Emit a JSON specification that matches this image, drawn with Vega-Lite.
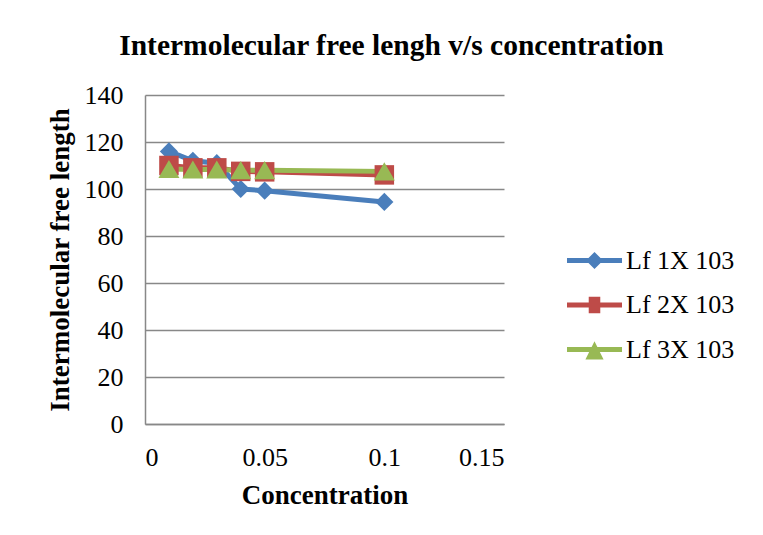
{
  "$schema": "https://vega.github.io/schema/vega-lite/v6.json",
  "width": 359,
  "height": 329,
  "autosize": {"type": "none"},
  "padding": {"left": 145, "top": 95, "right": 259, "bottom": 111},
  "background": "white",
  "title": {
    "text": "Intermolecular free lengh v/s concentration",
    "font": "Liberation Serif",
    "fontSize": 29.5,
    "fontWeight": "bold",
    "color": "black",
    "anchor": "middle",
    "frame": "group",
    "dx": 67,
    "offset": 21
  },
  "data": {
    "values": [
      {"c": 0.01, "lf": 116, "series": "Lf 1X 103"},
      {"c": 0.02, "lf": 112, "series": "Lf 1X 103"},
      {"c": 0.03, "lf": 111, "series": "Lf 1X 103"},
      {"c": 0.04, "lf": 100, "series": "Lf 1X 103"},
      {"c": 0.05, "lf": 99.3, "series": "Lf 1X 103"},
      {"c": 0.1, "lf": 94.5, "series": "Lf 1X 103"},
      {"c": 0.01, "lf": 110, "series": "Lf 2X 103"},
      {"c": 0.02, "lf": 109, "series": "Lf 2X 103"},
      {"c": 0.03, "lf": 109, "series": "Lf 2X 103"},
      {"c": 0.04, "lf": 107.5, "series": "Lf 2X 103"},
      {"c": 0.05, "lf": 107.3, "series": "Lf 2X 103"},
      {"c": 0.1, "lf": 106, "series": "Lf 2X 103"},
      {"c": 0.01, "lf": 108.5, "series": "Lf 3X 103"},
      {"c": 0.02, "lf": 108.3, "series": "Lf 3X 103"},
      {"c": 0.03, "lf": 108.3, "series": "Lf 3X 103"},
      {"c": 0.04, "lf": 108, "series": "Lf 3X 103"},
      {"c": 0.05, "lf": 108, "series": "Lf 3X 103"},
      {"c": 0.1, "lf": 107.5, "series": "Lf 3X 103"}
    ]
  },
  "encoding": {
    "x": {
      "field": "c",
      "type": "quantitative",
      "scale": {"domain": [0, 0.15], "nice": false, "zero": false},
      "axis": {
        "title": "Concentration",
        "values": [0, 0.05, 0.1, 0.15],
        "labelExpr": "'' + datum.value",
        "grid": false,
        "ticks": false,
        "labelPadding": 20,
        "titlePadding": 12
      }
    },
    "y": {
      "field": "lf",
      "type": "quantitative",
      "scale": {"domain": [0, 140], "nice": false},
      "axis": {
        "title": "Intermolecular free length",
        "values": [0, 20, 40, 60, 80, 100, 120, 140],
        "grid": true,
        "ticks": false,
        "labelPadding": 22,
        "titlePadding": 10
      }
    }
  },
  "layer": [
    {
      "mark": {"type": "point", "filled": true, "size": 12, "strokeWidth": 0},
      "encoding": {
        "shape": {
          "field": "series",
          "type": "nominal",
          "scale": {
            "domain": ["Lf 1X 103", "Lf 2X 103", "Lf 3X 103"],
            "range": [
              "M-1,-0.09H1V0.09H-1Z M0,-0.31L0.31,0L0,0.31L-0.31,0Z",
              "M-1,-0.09H1V0.09H-1Z M-0.21,-0.3H0.21V0.3H-0.21Z",
              "M-1,-0.09H1V0.09H-1Z M0,-0.3L0.33,0.36H-0.33Z"
            ]
          },
          "legend": {
            "orient": "none",
            "legendX": 422,
            "legendY": 138,
            "title": null,
            "symbolSize": 3025,
            "symbolStrokeWidth": 0,
            "symbolOpacity": 1,
            "labelFont": "Liberation Serif",
            "labelFontSize": 26,
            "labelColor": "black",
            "labelOffset": 4,
            "rowPadding": 3.5
          }
        },
        "color": {
          "field": "series",
          "type": "nominal",
          "scale": {
            "domain": ["Lf 1X 103", "Lf 2X 103", "Lf 3X 103"],
            "range": ["#4A7EBB", "#BE4B48", "#98B954"]
          },
          "legend": {
            "orient": "none",
            "legendX": 422,
            "legendY": 138,
            "title": null,
            "symbolSize": 3025,
            "symbolStrokeWidth": 0,
            "symbolOpacity": 1,
            "labelFont": "Liberation Serif",
            "labelFontSize": 26,
            "labelColor": "black",
            "labelOffset": 4,
            "rowPadding": 3.5
          }
        }
      }
    },
    {
      "mark": {"type": "line", "strokeWidth": 5},
      "encoding": {
        "color": {"field": "series", "type": "nominal", "legend": null}
      }
    },
    {
      "mark": {"type": "point", "filled": true, "opacity": 1, "strokeWidth": 0},
      "encoding": {
        "color": {"field": "series", "type": "nominal", "legend": null},
        "shape": {
          "condition": [
            {"test": "datum.series === 'Lf 1X 103'", "value": "diamond"},
            {"test": "datum.series === 'Lf 2X 103'", "value": "square"}
          ],
          "value": "triangle-up"
        },
        "size": {
          "condition": [
            {"test": "datum.series === 'Lf 1X 103'", "value": 330},
            {"test": "datum.series === 'Lf 2X 103'", "value": 380}
          ],
          "value": 440
        }
      }
    }
  ],
  "config": {
    "view": {"stroke": null},
    "axis": {
      "labelFont": "Liberation Serif",
      "labelFontSize": 26,
      "labelColor": "black",
      "titleFont": "Liberation Serif",
      "titleFontSize": 27,
      "titleFontWeight": "bold",
      "titleColor": "black",
      "domainColor": "#888888",
      "domainWidth": 1.5,
      "gridColor": "#888888",
      "gridWidth": 1.5
    }
  }
}
